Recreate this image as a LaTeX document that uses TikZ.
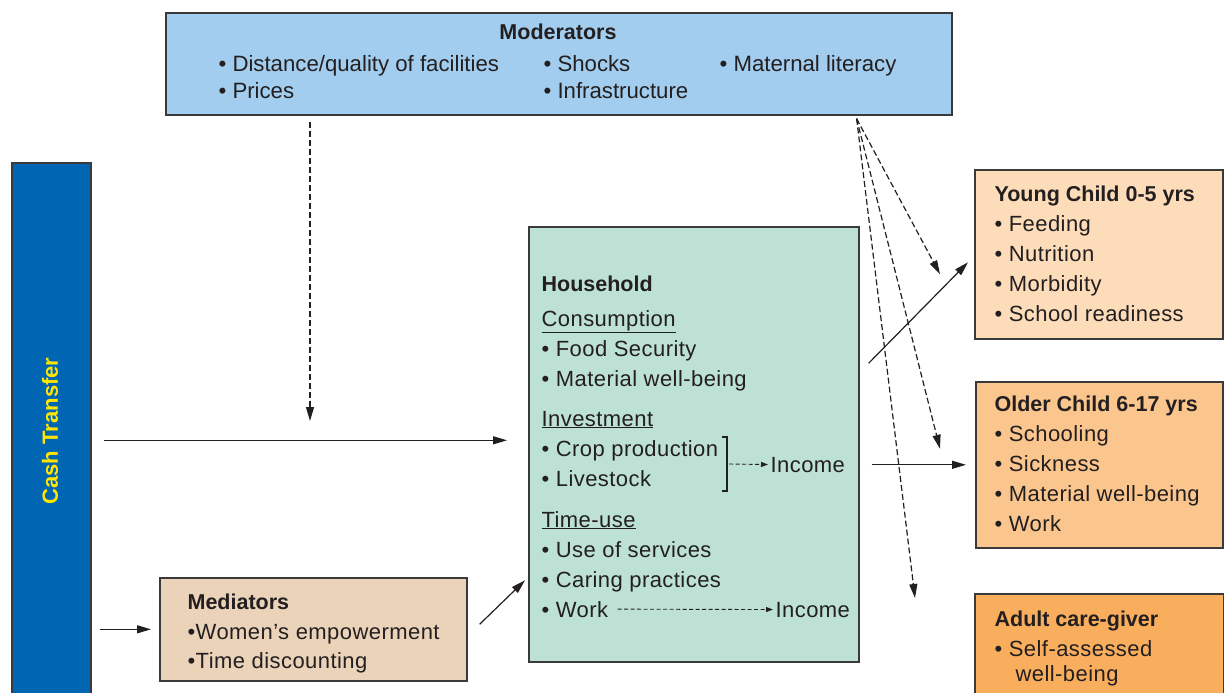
\documentclass[tikz,border=0pt]{standalone}
\usepackage{fontspec}
\setmainfont{Liberation Sans}
\newfontfamily\spacedfont[LetterSpace=2]{Liberation Sans}
\usepackage{tikz}
\usetikzlibrary{arrows.meta, positioning, calc}
\definecolor{ink}{HTML}{231F20}
\definecolor{boxLine}{HTML}{3A3A3A}
\definecolor{modBlue}{HTML}{A3CDEE}
\definecolor{cashBlue}{HTML}{0066B3}
\definecolor{cashYellow}{HTML}{FFE500}
\definecolor{hhGreen}{HTML}{BDE1D4}
\definecolor{medTan}{HTML}{EAD3B8}
\definecolor{youngPeach}{HTML}{FDDCBA}
\definecolor{olderPeach}{HTML}{FBC68D}
\definecolor{adultOrange}{HTML}{F9AE5D}

\begin{document}
\begin{tikzpicture}[x=1pt, y=-1pt, line width=1.2pt,
      >={Triangle[length=14pt, width=8pt]},
      box/.style={draw=boxLine, line width=1.6pt, anchor=north west, inner sep=0pt},
      txt/.style={anchor=base west, inner sep=0pt, text=ink, font=\spacedfont\fontsize{22}{26}\selectfont},
      modtxt/.style={txt, font=\fontsize{22.2}{26}\selectfont},
      hdr/.style={txt, font=\bfseries\fontsize{21.5}{26}\selectfont},
      arr/.style={->, draw=ink},
      darr/.style={->, draw=ink, dash pattern=on 6pt off 3pt},
      incarr/.style={-{Triangle[length=7pt, width=5pt]}, draw=ink, line width=0.9pt, dash pattern=on 4pt off 2.5pt}]
    \useasboundingbox (0,0) rectangle (1224,693);

    % boxes
    \node[box, fill=modBlue, minimum width=786pt, minimum height=102pt] (mod) at (165,12) {};
    \node[box, fill=cashBlue, minimum width=79pt, minimum height=545pt] (cash) at (11,162) {};
    \node[box, fill=hhGreen, minimum width=330pt, minimum height=435pt] (house) at (528,226) {};
    \node[box, fill=medTan, minimum width=307pt, minimum height=103pt] (med) at (159,577) {};
    \node[box, fill=youngPeach, minimum width=248pt, minimum height=169pt] (young) at (974,169) {};
    \node[box, fill=olderPeach, minimum width=247pt, minimum height=166pt] (older) at (975,381) {};
    \node[box, fill=adultOrange, minimum width=249pt, minimum height=110pt] (adult) at (974,593) {};

    % moderators
    \node[hdr, anchor=base] (modtitle) at (558,40) {Moderators};
    \foreach \x/\y/\t [count=\i] in {218/72/{Distance/quality of facilities}, 218/99/Prices,
        543/72/Shocks, 543/99/Infrastructure, 719/72/{Maternal literacy}}
      \node[modtxt] (m\i) at (\x,\y) {• \t};

    % cash transfer
    \node[rotate=90, text=cashYellow, font=\bfseries\fontsize{22}{26}\selectfont] (cashlbl) at (50,431) {Cash Transfer};

    % household
    \node[hdr] (hh) at (541,291) {Household};
    \foreach \n/\y/\t in {hcons/326/\underline{Consumption}, hfood/356/• Food Security,
        hmat/386/• Material well-being, hinv/426/\underline{Investment},
        hcrop/456/• Crop production, hlive/486/• Livestock, htime/527/\underline{Time-use},
        hserv/557/• Use of services, hcare/587/• Caring practices, hwork/617/• Work}
      \node[txt] (\n) at (541,\y) {\t};
    \draw[draw=ink, line width=2.2pt] (722,437) -- (727,437) -- (727,491) -- (722,491);
    \coordinate (brk) at (729,464);
    \node[txt] (inc1) at (770,472) {Income};
    \node[txt] (inc2) at (775,617) {Income};
    \draw[incarr] (brk) -- ([xshift=-2pt]inc1.west);
    \draw[incarr] ([xshift=9pt]hwork.east) -- ([xshift=-2pt]inc2.west);

    % mediators
    \node[hdr] (medtitle) at (187,609) {Mediators};
    \node[txt] (med1) at (187,639) {•Women’s empowerment};
    \node[txt] (med2) at (187,668) {•Time discounting};

    % outcomes
    \node[hdr] (ytitle) at (994,201) {Young Child 0-5 yrs};
    \foreach \t [count=\i] in {Feeding, Nutrition, Morbidity, School readiness}
      \node[txt] (y\i) at (994,201+30*\i) {• \t};
    \node[hdr] (otitle) at (994,411) {Older Child 6-17 yrs};
    \foreach \t [count=\i] in {Schooling, Sickness, Material well-being, Work}
      \node[txt] (o\i) at (994,411+30*\i) {• \t};
    \node[hdr] (atitle) at (994,626) {Adult care-giver};
    \node[txt] (a1) at (994,656) {• Self-assessed};
    \node[txt] (a2) at (1015,681) {well-being};

    % solid arrows
    \draw[arr] ($(cash.east |- house.west)+(12,-4)$) -- ($(house.west)+(-21,-4)$);
    \draw[arr] ($(cash.east |- med.west)+(8,0)$) -- ($(med.west)+(-8,0)$);
    \draw[arr] ($(med.east)+(12,-5)$) -- ($(house.west)+(-3,136)$);
    \draw[arr] ($(house.east)+(9,-81)$) -- ($(young.west)+(-6,8)$);
    \draw[arr] ($(house.east |- older.west)+(12,0)$) -- ($(older.west)+(-9,0)$);

    % dashed moderator arrows
    \coordinate (modhit) at (310,421);
    \draw[darr] ($(mod.south -| modhit)+(0,6)$) -- (modhit);
    \coordinate (modfan) at ($(mod.south east)+(-96,3)$);
    \draw[darr] (modfan) -- ($(young.west)+(-34,20)$);
    \draw[darr] (modfan) -- ($(older.west)+(-35,-16)$);
    \draw[darr] (modfan) -- ($(adult.north west)+(-59,5)$);
  \end{tikzpicture}
\end{document}
